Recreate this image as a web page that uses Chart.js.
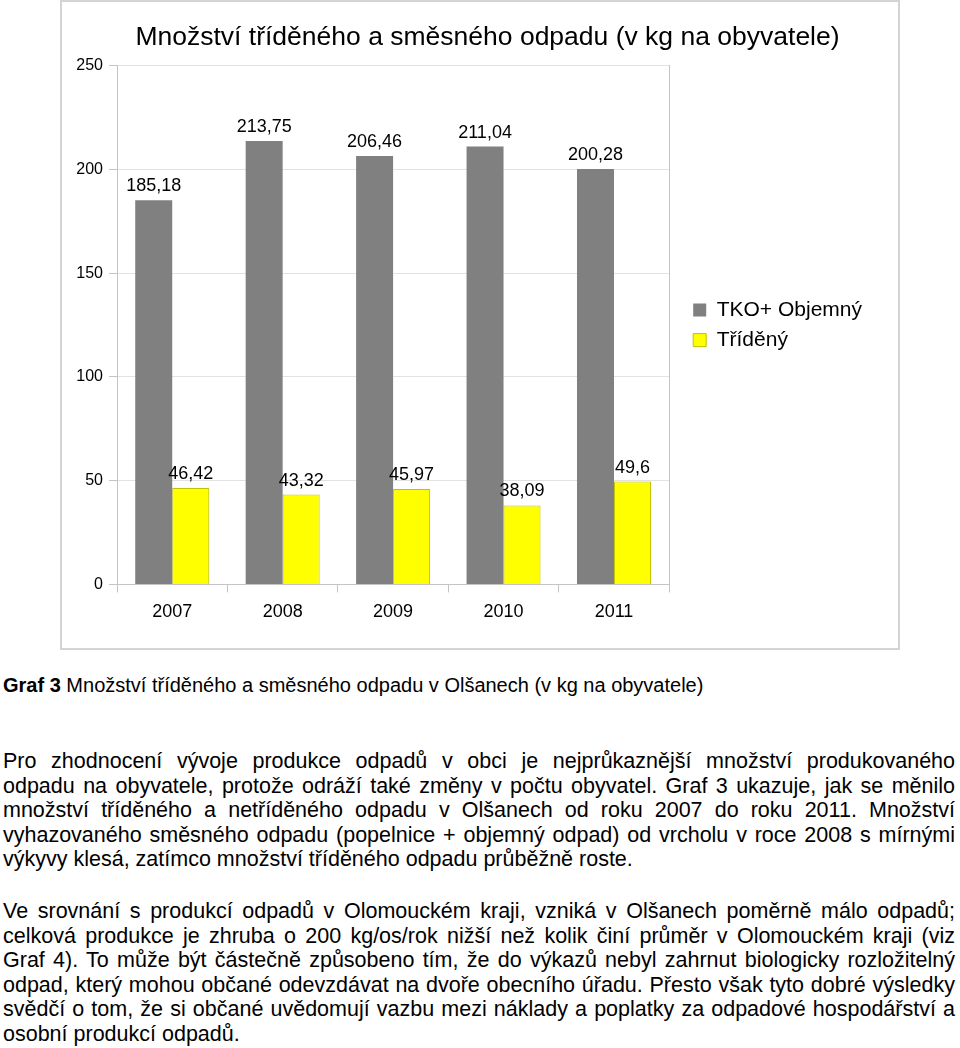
<!DOCTYPE html>
<html>
<head>
<meta charset="utf-8">
<script src="https://cdn.jsdelivr.net/npm/chart.js@4.4.0/dist/chart.umd.min.js"></script>
<style>
  body { margin: 0; background: #fff; font-family: "Liberation Sans", Arial, sans-serif; color: #000; }
  #box { position: absolute; left: 60px; top: 0; width: 836px; height: 646px; border: 2px solid #d4d4d4; }
  #caption { position: absolute; left: 3px; top: 674px; font-size: 20px; line-height: 23px; white-space: nowrap; }
  .para { position: absolute; left: 3px; width: 952px; font-size: 21.5px; line-height: 24.6px; }
  .para div { text-align: justify; text-align-last: justify; white-space: nowrap; }
  .para div.last { text-align-last: left; }
</style>
</head>
<body>
<div id="box"><canvas id="wasteChart"></canvas></div>

<div id="caption"><b>Graf 3</b> Množství tříděného a směsného odpadu v Olšanech (v kg na obyvatele)</div>

<div class="para" style="top: 749px;">
  <div>Pro zhodnocení vývoje produkce odpadů v obci je nejprůkaznější množství produkovaného</div>
  <div>odpadu na obyvatele, protože odráží také změny v počtu obyvatel. Graf 3 ukazuje, jak se měnilo</div>
  <div>množství tříděného a netříděného odpadu v Olšanech od roku 2007 do roku 2011. Množství</div>
  <div>vyhazovaného směsného odpadu (popelnice + objemný odpad) od vrcholu v roce 2008 s mírnými</div>
  <div class="last">výkyvy klesá, zatímco množství tříděného odpadu průběžně roste.</div>
</div>

<div class="para" style="top: 899px;">
  <div>Ve srovnání s produkcí odpadů v Olomouckém kraji, vzniká v Olšanech poměrně málo odpadů;</div>
  <div>celková produkce je zhruba o 200 kg/os/rok nižší než kolik činí průměr v Olomouckém kraji (viz</div>
  <div>Graf 4). To může být částečně způsobeno tím, že do výkazů nebyl zahrnut biologicky rozložitelný</div>
  <div>odpad, který mohou občané odevzdávat na dvoře obecního úřadu. Přesto však tyto dobré výsledky</div>
  <div>svědčí o tom, že si občané uvědomují vazbu mezi náklady a poplatky za odpadové hospodářství a</div>
  <div class="last">osobní produkcí odpadů.</div>
</div>

<script>
const years = ['2007', '2008', '2009', '2010', '2011'];
const mixedWaste = [185.18, 213.75, 206.46, 211.04, 200.28];
const sortedWaste = [46.42, 43.32, 45.97, 38.09, 49.6];
const seriesNames = ['TKO+ Objemný', 'Tříděný'];
const yTicks = [0, 50, 100, 150, 200, 250];

const FONT = '"Liberation Sans", Arial, sans-serif';
Chart.defaults.font.family = FONT;
Chart.defaults.color = '#000';

// value above each bar, with a decimal comma
const valueLabels = {
  id: 'valueLabels',
  afterDatasetsDraw (chart) {
    const ctx = chart.ctx;
    ctx.save();
    ctx.font = '18px ' + FONT;
    ctx.fillStyle = '#000';
    ctx.textAlign = 'center';
    ctx.textBaseline = 'alphabetic';
    chart.data.datasets.forEach((ds, i) => {
      chart.getDatasetMeta(i).data.forEach((bar, j) => {
        ctx.fillText(String(ds.data[j]).replace('.', ','), bar.x, bar.y - 9);
      });
    });
    ctx.restore();
  }
};

const lineColor = '#c4c4c4';
const gridColor = '#e2e2e2';

new Chart(document.getElementById('wasteChart'), {
  type: 'bar',
  data: {
    labels: years,
    datasets: [
      {
        label: seriesNames[0],
        data: mixedWaste,
        backgroundColor: '#808080',
        borderWidth: 0
      },
      {
        label: seriesNames[1],
        data: sortedWaste,
        backgroundColor: '#ffff00',
        borderColor: '#c2c200',
        borderWidth: 1
      }
    ]
  },
  options: {
    responsive: true,
    maintainAspectRatio: false,
    animation: false,
    layout: { padding: { left: 15, right: 0, top: 0, bottom: 16 } },
    datasets: { bar: { barPercentage: 1, categoryPercentage: 0.67 } },
    scales: {
      x: {
        grid: { offset: true, drawOnChartArea: false, drawTicks: true, tickLength: 8, color: lineColor },
        border: { color: lineColor },
        ticks: { padding: 9, font: { size: 18 } }
      },
      y: {
        min: 0,
        max: 250,
        afterBuildTicks: (scale) => { scale.ticks = yTicks.map(v => ({ value: v })); },
        afterFit: (scale) => { scale.width = 40; },
        grid: { color: gridColor, tickLength: 8, tickColor: lineColor },
        border: { color: lineColor },
        ticks: { padding: 6, font: { size: 16 } }
      },
      // empty axis: right edge of the plot frame + gap before the legend
      gap: {
        type: 'linear',
        position: 'right',
        grid: { display: false, drawTicks: false },
        ticks: { display: false },
        border: { display: true, color: lineColor },
        afterFit: (scale) => { scale.width = 15; }
      },
      // empty axis outside the legend, keeps the title centred on the whole box
      edge: {
        type: 'linear',
        position: 'right',
        weight: 2000,
        grid: { display: false, drawTicks: false },
        ticks: { display: false },
        border: { display: false },
        afterFit: (scale) => { scale.width = 26; }
      }
    },
    plugins: {
      title: {
        display: true,
        text: 'Množství tříděného a směsného odpadu (v kg na obyvatele)',
        color: '#000',
        font: { size: 26.5, weight: 'normal' },
        padding: { top: 20, bottom: 12 }
      },
      legend: {
        position: 'right',
        fullSize: false,
        maxWidth: 220,
        labels: {
          boxWidth: 13,
          boxHeight: 13,
          padding: 9,
          color: '#000',
          font: { size: 21 }
        }
      },
      tooltip: { enabled: false }
    }
  },
  plugins: [valueLabels]
});
</script>
</body>
</html>
